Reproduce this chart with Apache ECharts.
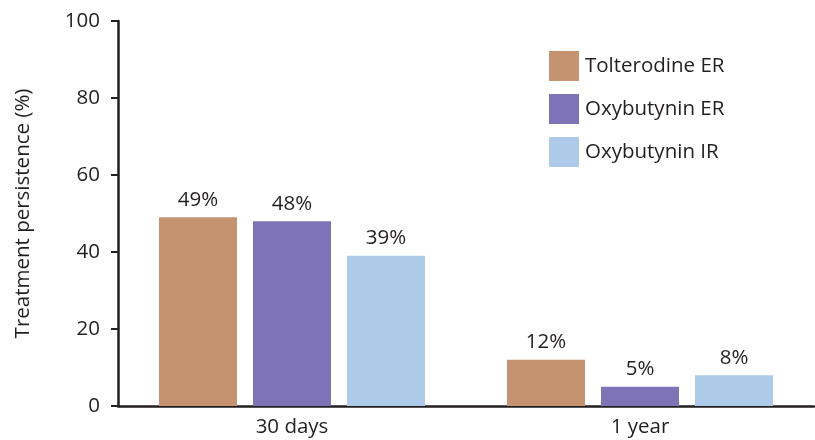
<!DOCTYPE html>
<html>
<head>
<meta charset="utf-8">
<script src="https://cdn.jsdelivr.net/npm/echarts@6/dist/echarts.min.js"></script>
<style>
  html, body { margin: 0; padding: 0; background: #fff; }
  #chart { width: 815px; height: 440px; }
</style>
</head>
<body>
<div id="chart"></div>
<script>
// Treatment persistence by drug and follow-up period
const categories = ['30 days', '1 year'];
const seriesNames = ['Tolterodine ER', 'Oxybutynin ER', 'Oxybutynin IR'];
const tolterodineER = [49, 12];
const oxybutyninER = [48, 5];
const oxybutyninIR = [39, 8];
const yTicks = [0, 20, 40, 60, 80, 100];

const colors = ['#C69371', '#7E73B6', '#ADCAE9'];
const textColor = '#231F20';
const fontFamily = '"Open Sans", "Noto Sans", sans-serif';
const fontSize = 20.5;

const values = [tolterodineER, oxybutyninER, oxybutyninIR];

const chart = echarts.init(document.getElementById('chart'), null, { renderer: 'canvas' });

chart.setOption({
  animation: false,
  textStyle: { fontFamily: fontFamily, color: textColor },
  grid: { left: 118, right: 1, top: 21, bottom: 34, containLabel: false },
  legend: {
    data: seriesNames,
    orient: 'vertical',
    left: 544,
    top: 46,
    itemWidth: 30,
    itemHeight: 30,
    itemGap: 13,
    icon: 'rect',
    textStyle: { fontSize: fontSize, color: textColor, fontFamily: fontFamily, padding: [0, 0, 0, 1] }
  },
  xAxis: {
    type: 'category',
    data: categories,
    axisLine: { lineStyle: { color: textColor, width: 2.5 } },
    axisTick: { show: false },
    axisLabel: { fontSize: fontSize, color: textColor, margin: 11 }
  },
  yAxis: {
    type: 'value',
    min: yTicks[0],
    max: yTicks[yTicks.length - 1],
    interval: yTicks[1] - yTicks[0],
    name: 'Treatment persistence (%)',
    nameLocation: 'middle',
    nameGap: 84,
    nameTextStyle: { fontSize: fontSize, color: textColor },
    axisLine: { show: true, lineStyle: { color: textColor, width: 2.5 } },
    axisTick: { show: true, length: 7, lineStyle: { color: textColor, width: 2 } },
    axisLabel: { fontSize: fontSize, color: textColor, margin: 18 },
    splitLine: { show: false }
  },
  series: seriesNames.map((name, i) => ({
    name: name,
    type: 'bar',
    data: values[i],
    barWidth: 78,
    barGap: '20.5%',
    itemStyle: { color: colors[i] },
    label: {
      show: true,
      position: 'top',
      distance: 7,
      formatter: '{c}%',
      fontSize: fontSize,
      color: textColor
    }
  }))
});
</script>
</body>
</html>
